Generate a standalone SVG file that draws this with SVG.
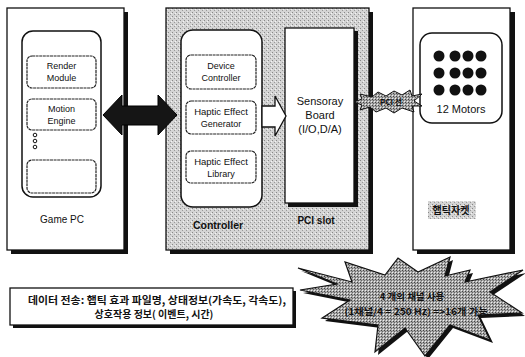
<svg xmlns="http://www.w3.org/2000/svg" width="525" height="357" viewBox="0 0 525 357">
<style>
.t{font-family:"Liberation Sans","DejaVu Sans",sans-serif;fill:#111;text-anchor:middle}
.k{font-family:"Noto Sans CJK KR","Liberation Sans",sans-serif;font-weight:bold;fill:#111;text-anchor:middle}
.box{fill:#fff;stroke:#111;stroke-width:1.3}
.rnd{fill:#fff;stroke:#111;stroke-width:1.5}
.sub{fill:#fff;stroke:#222;stroke-width:1.2;stroke-dasharray:3 0.6}
.sh{fill:#111}
</style>
<defs>
<pattern id="stip" width="4" height="4" patternUnits="userSpaceOnUse">
<rect width="4" height="4" fill="#d4d4d4"/>
<rect x="0" y="0" width="1" height="1" fill="#888"/>
<rect x="2" y="2" width="1" height="1" fill="#999"/>
<rect x="3" y="1" width="1" height="1" fill="#f4f4f4"/>
</pattern>
<pattern id="hatch" width="3" height="3" patternUnits="userSpaceOnUse">
<rect width="3" height="3" fill="#a8a8a8"/>
<rect x="0" y="0" width="1" height="1" fill="#444"/>
<rect x="1" y="1" width="1" height="1" fill="#666"/>
<rect x="2" y="2" width="1" height="1" fill="#eee"/>
</pattern>
</defs>

<g id="game-pc">
<rect class="sh" x="11" y="12" width="117" height="242"/>
<rect class="box" x="7" y="8" width="117" height="242"/>
<rect class="rnd" x="22" y="31" width="79" height="166" rx="11"/>
<rect class="sub" x="27" y="56" width="69" height="32" rx="5"/>
<text class="t" x="61.5" y="69" font-size="9">Render</text>
<text class="t" x="61.5" y="81" font-size="9">Module</text>
<rect class="sub" x="27" y="99" width="69" height="31" rx="5"/>
<text class="t" x="61.5" y="112" font-size="9">Motion</text>
<text class="t" x="61.5" y="124" font-size="9">Engine</text>
<circle cx="35" cy="135" r="1.8" fill="#fff" stroke="#111"/>
<circle cx="35" cy="141" r="1.8" fill="#fff" stroke="#111"/>
<circle cx="35" cy="147" r="1.8" fill="#fff" stroke="#111"/>
<rect class="sub" x="27" y="160" width="69" height="33" rx="5"/>
<text class="t" x="62" y="223" font-size="10">Game PC</text>
</g>

<g id="controller">
<rect class="sh" x="170" y="12" width="203" height="242"/>
<rect x="166" y="8" width="203" height="242" fill="url(#stip)" stroke="#111" stroke-width="1.3"/>
<rect class="rnd" x="181" y="30" width="81" height="177" rx="12"/>
<rect class="sub" x="186" y="55" width="70" height="34" rx="5"/>
<text class="t" x="221" y="69" font-size="9">Device</text>
<text class="t" x="221" y="81" font-size="9">Controller</text>
<rect class="sub" x="186" y="101" width="70" height="33" rx="5"/>
<text class="t" x="221" y="115" font-size="9.5">Haptic Effect</text>
<text class="t" x="221" y="127" font-size="9">Generator</text>
<rect class="sub" x="186" y="151" width="70" height="32" rx="5"/>
<text class="t" x="221" y="165" font-size="9.5">Haptic Effect</text>
<text class="t" x="221" y="177" font-size="9">Library</text>
<text class="t" x="218" y="229" font-size="10.5" font-weight="bold">Controller</text>
</g>

<g id="sensoray-board">
<rect class="sh" x="288" y="31" width="70" height="176"/>
<rect class="box" x="285" y="28" width="69" height="175"/>
<text class="t" x="320" y="105" font-size="11">Sensoray</text>
<text class="t" x="320" y="119" font-size="11">Board</text>
<text class="t" x="320" y="133" font-size="11">(I/O,D/A)</text>
<text class="t" x="316" y="224" font-size="10" font-weight="bold">PCI slot</text>
</g>

<g id="haptic-jacket">
<rect class="sh" x="417" y="12" width="98" height="242"/>
<rect class="box" x="413" y="8" width="97" height="242"/>
<rect class="rnd" x="420" y="33" width="82" height="90" rx="12"/>
<g fill="#111">
<circle cx="439" cy="56" r="5.5"/><circle cx="455" cy="56" r="5.5"/><circle cx="468" cy="56" r="5.5"/><circle cx="481" cy="56" r="5.5"/>
<circle cx="439" cy="73" r="5.5"/><circle cx="455" cy="73" r="5.5"/><circle cx="468" cy="73" r="5.5"/><circle cx="481" cy="73" r="5.5"/>
<circle cx="439" cy="90" r="5.5"/><circle cx="455" cy="90" r="5.5"/><circle cx="468" cy="90" r="5.5"/><circle cx="481" cy="90" r="5.5"/>
</g>
<text class="t" x="461" y="113" font-size="11">12 Motors</text>
<rect x="428" y="201" width="48" height="18" fill="url(#stip)"/>
<text class="k" x="451" y="214" font-size="10">햅틱자켓</text>
</g>

<g id="connectors">
<path d="M103,115 L122,95 L122,106 L158,106 L158,95 L177,115 L158,135 L158,125 L122,125 L122,135 Z" fill="#151515" stroke="#000" stroke-width="1"/>
<path d="M262,106 L275,106 L275,96 L286,116 L275,136 L275,127 L262,127 Z" fill="#fff" stroke="#111" stroke-width="1.3"/>
<path d="M354,102 L362,99 L360,94 L372,97 L378,92 L386,96 L394,91 L402,95 L410,90 L412,96 L422,94 L414,101 L422,106 L412,106 L414,112 L402,108 L394,113 L386,108 L376,112 L370,107 L360,110 L362,105 Z" fill="url(#hatch)" stroke="#111" stroke-width="1"/>
<text class="k" x="391" y="105" font-size="8">PCI 선</text>
</g>

<g id="data-note">
<rect class="sh" x="13" y="291" width="283" height="37"/>
<rect class="box" x="10" y="288" width="283" height="37"/>
<text class="k" x="157" y="304" font-size="10" textLength="258" lengthAdjust="spacingAndGlyphs">데이터 전송: 햅틱 효과 파일명, 상태정보(가속도, 각속도),</text>
<text class="k" x="154" y="318" font-size="10">상호작용 정보( 이벤트, 시간)</text>
</g>

<g id="channel-burst">
<polygon points="301,271 355,285 348,265 388,278 401,261 421,275 453,260 448,279 473,273 468,285 526,273 493,295 525,316 481,318 493,343 453,328 428,359 408,331 378,355 381,328 325,321 353,303 303,293 340,287" fill="#111"/>
<polygon points="298,268 352,282 345,262 385,275 398,258 418,272 450,257 445,276 470,270 465,282 523,270 490,292 522,313 478,315 490,340 450,325 425,356 405,328 375,352 378,325 322,318 350,300 300,290 337,284" fill="url(#hatch)" stroke="#111" stroke-width="1.2"/>
<text class="k" x="412" y="300" font-size="9.5">4 개의 채널 사용</text>
<text class="k" x="416" y="315" font-size="9" textLength="143" lengthAdjust="spacingAndGlyphs">(1채널/4 = 250 Hz) =&gt;16개 가능</text>
</g>
</svg>
